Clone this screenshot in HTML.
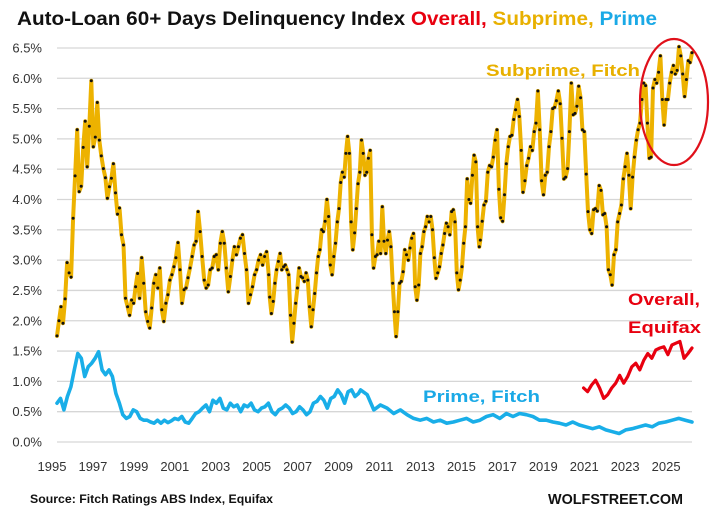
<!DOCTYPE html>
<html><head><meta charset="utf-8"><style>
html,body{margin:0;padding:0;background:#fff;}
svg{display:block;font-family:"Liberation Sans",Arial,sans-serif;}
</style></head><body>
<svg id="chart" width="720" height="513" viewBox="0 0 720 513">
<text x="17" y="25" font-size="19" font-weight="bold" textLength="640" lengthAdjust="spacingAndGlyphs"><tspan fill="#111">Auto-Loan 60+ Days Delinquency Index </tspan><tspan fill="#e8000f">Overall, </tspan><tspan fill="#e8b000">Subprime, </tspan><tspan fill="#1aa9e6">Prime</tspan></text>
<g id="grid"></g>
<g id="yticks"></g>
<g id="xticks"></g>
<g id="series"></g>
<text x="486" y="76" font-size="17" font-weight="bold" fill="#e8b000" textLength="154" lengthAdjust="spacingAndGlyphs">Subprime, Fitch</text>
<text x="628" y="305" font-size="17" font-weight="bold" fill="#e8000f" textLength="72" lengthAdjust="spacingAndGlyphs">Overall,</text>
<text x="628" y="333" font-size="17" font-weight="bold" fill="#e8000f" textLength="73" lengthAdjust="spacingAndGlyphs">Equifax</text>
<text x="423" y="402" font-size="17" font-weight="bold" fill="#1aa9e6" textLength="117" lengthAdjust="spacingAndGlyphs">Prime, Fitch</text>
<ellipse cx="674" cy="102" rx="34" ry="63" fill="none" stroke="#e0101a" stroke-width="2.2"/>
<text x="30" y="503" font-size="12" font-weight="bold" fill="#111" textLength="243" lengthAdjust="spacingAndGlyphs">Source: Fitch Ratings ABS Index, Equifax</text>
<text x="548" y="504" font-size="15" font-weight="bold" fill="#111" textLength="135" lengthAdjust="spacingAndGlyphs">WOLFSTREET.COM</text>
</svg>
<script>
const yTickValues=[0,0.5,1,1.5,2,2.5,3,3.5,4,4.5,5,5.5,6,6.5];
const yTickLabels=["0.0%","0.5%","1.0%","1.5%","2.0%","2.5%","3.0%","3.5%","4.0%","4.5%","5.0%","5.5%","6.0%","6.5%"];
const xTickYears=[1995,1997,1999,2001,2003,2005,2007,2009,2011,2013,2015,2017,2019,2021,2023,2025];
const subprimeSeg1=[1.75,2.0,2.23,1.96,2.36,2.96,2.79,2.72,3.69,4.39,5.15,4.13,4.22,4.86,5.29,4.54,5.21,5.96,4.87,5.03,5.6,4.98,4.72,4.51,4.36,4.02,4.21,4.35,4.59,4.11,3.76,3.86,3.42,3.25,2.37,2.23,2.09,2.34,2.29,2.56,2.78,2.37,3.04,2.62,2.15,1.99,1.88,2.21,2.62,2.76,2.54,2.87,2.18,1.99,2.29,2.43,2.67,2.76,2.89,3.04,3.29,2.84,2.29,2.51,2.54,2.71,2.87,3.06,3.25,3.31,3.8,3.47,3.06,2.67,2.54,2.59,2.84,2.87,3.06,3.09,2.84,3.28,3.47,3.28,2.87,2.48,2.73,3.0,3.22,3.09,3.22,3.36,3.42,3.11,2.84,2.29,2.43,2.56,2.76,2.84,3.0,3.09,2.92,3.06,3.14,2.76];
const subprimeSeg2=[2.39,2.12,2.32,2.62,2.84,2.98,3.11,2.84,2.89,2.92,2.84,2.76,2.09,1.65,1.96,2.29,2.54,2.87,2.73,2.71,2.65,2.79,2.67,2.23,1.9,2.18,2.45,2.79,3.06,3.17,3.5,3.47,3.64,4.0,3.72,2.92,2.76,3.06,3.28,3.63,3.85,4.28,4.45,4.37,4.76,5.04,4.76,3.63,3.17,3.45,3.85,4.26,4.45,4.98,4.76,4.4,4.45,4.68,4.81,3.42,2.87,3.06,3.09,3.31,3.11,3.88,3.31,3.11,3.33,3.47,3.22,2.62,2.15,1.74,2.15,2.62,2.65,2.81,3.17,3.09,3.0,3.2,3.36,3.44,2.56,2.34,2.59,3.11,3.22,3.47,3.55,3.72,3.63,3.72,3.5,3.04,2.7,2.79,2.89,3.11,3.25,3.44,3.61,3.55,3.42,3.8,3.83,3.63,2.79,2.51,2.67,2.89,3.28,3.55,4.34,4.0,3.94,4.4,4.73,4.62,3.55,3.22];
const subprimeSeg3=[3.33,3.64,3.91,3.97,4.45,4.56,4.54,4.7,4.98,5.15,4.17,3.7,3.64,4.08,4.59,4.87,5.04,5.06,5.32,5.48,5.65,5.37,4.81,4.12,4.31,4.56,4.68,4.87,4.81,5.12,5.26,5.79,5.15,4.31,4.08,4.4,4.45,4.87,5.12,5.5,5.52,5.63,5.79,5.58,5.01,4.34,4.37,4.51,5.12,5.92,5.4,5.42,5.54,5.87,5.68,5.15,5.12,4.42,3.8,3.5,3.44,3.83,3.85,3.81,4.23,4.15,3.75,3.77,3.55,2.84,2.76,2.59,3.09,3.17,3.63,3.77,3.91,4.34,4.54,4.76,4.4,3.85,4.37,4.7,4.98,5.15,5.26,5.65,5.92,5.88,5.26,4.68,4.7,5.84,5.98,5.92,6.1,6.37,5.65,5.23,5.65,5.65,5.92,6.1,6.21,6.07,6.13,6.52,6.37,6.07,5.7,5.98,6.29,6.26,6.42];
const primeSeg1=[0.64,0.72,0.53,0.75,0.91,1.19,1.46,1.38,1.08,1.24,1.30,1.38,1.49,1.19,1.11,1.19,1.08,0.80,0.64,0.45,0.39,0.42,0.53,0.50,0.39,0.36,0.36,0.33,0.31,0.36,0.31,0.36,0.32,0.35,0.39,0.37,0.42,0.33,0.31,0.39,0.47,0.50,0.56,0.61,0.50,0.69,0.64,0.72,0.56,0.53,0.64,0.58,0.61,0.50,0.61,0.58,0.64,0.53,0.50,0.56,0.58,0.64,0.50,0.45,0.53,0.56,0.61,0.56,0.47,0.50,0.58,0.53,0.45,0.50,0.64,0.67,0.75,0.69,0.56,0.72,0.75,0.86,0.78,0.64,0.83,0.86,0.75,0.80];
const primeSeg2=[0.86,0.78,0.53,0.61,0.56,0.47,0.53,0.45,0.39,0.36,0.39,0.33,0.36,0.31,0.33,0.36,0.39,0.33,0.36,0.42,0.45,0.39,0.47,0.42,0.47,0.45,0.42,0.36,0.36,0.33,0.31,0.28,0.33,0.28,0.25,0.22,0.25,0.2,0.17,0.14,0.2,0.22,0.25,0.28,0.25,0.31,0.33,0.36,0.39,0.36,0.33];
const overallValues=[0.89,0.83,0.94,1.02,0.89,0.72,0.78,0.89,0.97,1.1,0.97,1.08,1.24,1.3,1.19,1.35,1.46,1.38,1.52,1.55,1.57,1.44,1.6,1.63,1.66,1.38,1.46,1.55];
const subprimeSpans=[[1995.0,2005.25],[2005.3,2015.45],[2015.5,2025.75]];
const primeSpans=[[1995.0,2009.6],[2009.7,2025.75]];
const overallSpan=[2020.5,2025.75];

const NS="http://www.w3.org/2000/svg";
const yS=v=>442-v*60.62;
const xS=t=>57+(t-1995)*20.65;
function mk(tag,attrs,parent){const e=document.createElementNS(NS,tag);for(const k in attrs)e.setAttribute(k,attrs[k]);parent.appendChild(e);return e;}
const grid=document.getElementById('grid'),yt=document.getElementById('yticks'),xt=document.getElementById('xticks'),ser=document.getElementById('series');
yTickValues.forEach((v,i)=>{
  const l=mk('line',{x1:57,x2:692,y1:yS(v),y2:yS(v),stroke:'#d6d6d6','stroke-width':1.3},grid);
  
  
  const t=mk('text',{x:42,y:yS(v)+4.5,'text-anchor':'end','font-size':13,fill:'#333'},yt);
  t.textContent=yTickLabels[i];
  
  
});
xTickYears.forEach(yr=>{
  const t=mk('text',{x:52+(yr-1995)*20.47,y:471,'text-anchor':'middle','font-size':13,fill:'#333'},xt);
  t.textContent=String(yr);
  
  
});
function pts(segs,spans){const out=[];segs.forEach((s,k)=>{const a=spans[k][0],b=spans[k][1];s.forEach((v,i)=>out.push([xS(a+(b-a)*i/(s.length-1)),yS(v)]));});return out;}
function line(p,color,w,name){
  const e=mk('polyline',{points:p.map(q=>q[0].toFixed(1)+','+q[1].toFixed(1)).join(' '),fill:'none',stroke:color,'stroke-width':w,'stroke-linejoin':'round','stroke-linecap':'round'},ser);
  
  
}
line(pts([primeSeg1,primeSeg2],primeSpans),'#19aee8',3.6,'prime-line');
line(pts([overallValues],[overallSpan]),'#e8000f',3.2,'overall-line');
const sp=pts([subprimeSeg1,subprimeSeg2,subprimeSeg3],subprimeSpans);
line(sp,'#edb200',4,'subprime-line');
sp.forEach(q=>{
  const c=mk('circle',{cx:q[0].toFixed(1),cy:q[1].toFixed(1),r:1.5,fill:'#111'},ser);
  
  
});
</script>
</body></html>
